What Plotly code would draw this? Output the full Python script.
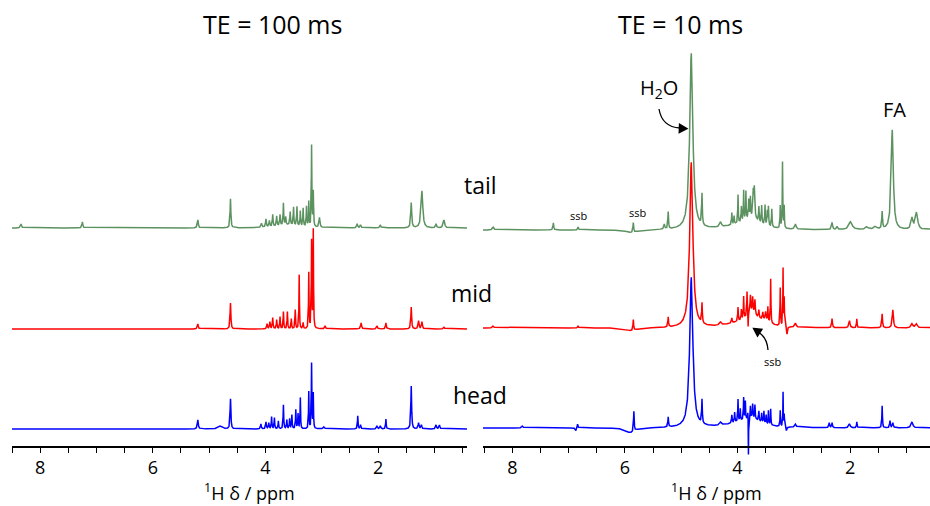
import numpy as np
import plotly.graph_objects as go

W, H = 930, 506

# Chemical-shift grid (ppm)
PPM = np.arange(0.40, 8.56, 0.001)

# Peak tables: (shift ppm, intensity, half-width ppm); negative intensity = inverted line
TAIL_TE100 = [
    (8.34, 4, 0.012), (7.25, 6, 0.010), (5.20, 8, 0.010), (4.62, 29, 0.008),
    (4.07, 4, 0.010), (3.99, 8, 0.008), (3.93, 6, 0.008), (3.87, 12, 0.007),
    (3.80, 10, 0.007), (3.74, 11, 0.007), (3.68, 22, 0.006), (3.64, 8, 0.007),
    (3.56, 13, 0.007), (3.50, 18, 0.006), (3.44, 19, 0.006), (3.38, 15, 0.006),
    (3.33, 18, 0.006), (3.27, 20, 0.006), (3.23, 25, 0.005), (3.18, 81, 0.005),
    (3.15, 35, 0.006), (3.04, 10, 0.010), (2.37, 4, 0.010), (2.31, 3, 0.010),
    (1.96, 3, 0.010), (1.41, 25, 0.010), (1.22, 37, 0.018), (0.97, 4, 0.010),
    (0.83, 8, 0.015), (3.60, 3, 0.25),
]
MID_TE100 = [
    (5.20, 5, 0.010), (4.62, 26, 0.008), (3.97, 5, 0.008), (3.92, 7, 0.007),
    (3.87, 11, 0.007), (3.80, 9, 0.007), (3.74, 12, 0.006), (3.68, 17, 0.006),
    (3.61, 17, 0.006), (3.54, 10, 0.006), (3.47, 19, 0.006), (3.40, 54, 0.005),
    (3.33, 6, 0.006), (3.23, 56, 0.005), (3.18, 87, 0.005), (3.15, 98, 0.005),
    (2.94, 3, 0.010), (2.30, 6, 0.010), (2.02, 3, 0.010), (1.86, 6, 0.008),
    (1.41, 22, 0.008), (1.28, 8, 0.010), (1.22, 7, 0.010), (0.83, 2, 0.010),
]
HEAD_TE100 = [
    (5.20, 9, 0.010), (4.80, 3, 0.040), (4.62, 30, 0.008), (4.08, 5, 0.008),
    (3.99, 7, 0.008), (3.94, 6, 0.007), (3.89, 12, 0.006), (3.84, 11, 0.006),
    (3.77, 8, 0.006), (3.68, 24, 0.006), (3.62, 9, 0.006), (3.57, 10, 0.006),
    (3.53, 14, 0.006), (3.46, 19, 0.006), (3.42, 15, 0.006), (3.38, 31, 0.005),
    (3.23, 37, 0.005), (3.18, 65, 0.005), (3.15, 35, 0.005), (2.96, 2, 0.015),
    (2.36, 13, 0.006), (2.31, 4, 0.008), (2.02, 3, 0.010), (1.96, 3, 0.010),
    (1.86, 10, 0.006), (1.41, 43, 0.008), (1.28, 6, 0.010), (1.23, 4, 0.010),
    (0.97, 4, 0.010), (0.91, 4, 0.010),
]
TAIL_TE10 = [
    (8.34, 3, 0.015), (7.27, 7, 0.008), (6.83, 3, 0.008), (5.88, -3, 0.12),
    (5.85, 10, 0.008), (5.30, 5, 0.010), (5.23, 17, 0.007), (4.82, 176, 0.033),
    (4.63, 31, 0.007), (4.30, 5, 0.020), (4.10, 12, 0.006), (4.06, 8, 0.006),
    (3.99, 28, 0.005), (3.93, 15, 0.006), (3.89, 30, 0.005), (3.85, 28, 0.005),
    (3.80, 18, 0.006), (3.77, 20, 0.006), (3.72, 24, 0.008), (3.70, 30, 0.010),
    (3.62, 15, 0.006), (3.57, 18, 0.006), (3.51, 20, 0.006), (3.47, 14, 0.006),
    (3.45, 19, 0.006), (3.39, 18, 0.006), (3.24, 22, 0.005), (3.20, 66, 0.005),
    (3.17, 22, 0.005), (2.97, 5, 0.015), (2.32, 7, 0.012), (2.23, 3, 0.012),
    (1.99, 8, 0.035), (1.70, 3, 0.030), (1.55, 3, 0.030), (1.43, 17, 0.008),
    (1.25, 100, 0.022), (0.90, 11, 0.020), (0.82, 17, 0.025),
    (3.75, 10, 0.18), (4.00, 3, 0.30),
]
MID_TE10 = [
    (8.34, 2, 0.015), (6.83, 2, 0.008), (5.88, -3, 0.12), (5.85, 11, 0.007),
    (5.23, 10, 0.007), (4.82, 165, 0.033), (4.63, 20, 0.007), (4.30, 3, 0.020),
    (4.10, 5, 0.008), (3.99, 14, 0.006), (3.93, 10, 0.006), (3.89, 22, 0.005),
    (3.83, 24, 0.005), (3.81, -14, 0.003), (3.77, 18, 0.008), (3.73, 16, 0.008),
    (3.69, 15, 0.008), (3.62, 8, 0.008), (3.55, 7, 0.008), (3.50, 8, 0.008),
    (3.46, 14, 0.005), (3.41, 44, 0.005), (3.24, 38, 0.005), (3.19, 57, 0.004),
    (3.17, 28, 0.005), (3.12, -8, 0.010), (2.97, 4, 0.015), (2.32, 9, 0.008),
    (2.01, 7, 0.012), (1.88, 9, 0.006), (1.43, 14, 0.008), (1.24, 18, 0.012),
    (0.90, 4, 0.020), (0.82, 4, 0.020),
    (3.75, 12, 0.15), (4.00, 3, 0.30), (3.50, 4, 0.10),
]
HEAD_TE10 = [
    (7.82, 2, 0.015), (6.87, -3, 0.010), (6.84, 4, 0.008), (5.90, -5, 0.10),
    (5.84, 20, 0.007), (5.23, 10, 0.007), (4.82, 150, 0.033), (4.63, 24, 0.007),
    (4.30, 3, 0.020), (4.10, 8, 0.006), (4.05, 10, 0.006), (3.99, 22, 0.005),
    (3.95, 12, 0.005), (3.89, 22, 0.005), (3.86, 18, 0.005), (3.815, 8, 0.004),
    (3.805, -38, 0.003), (3.77, 12, 0.006), (3.73, 14, 0.006), (3.69, 14, 0.006),
    (3.62, 10, 0.006), (3.57, 9, 0.006), (3.53, 12, 0.006), (3.49, 9, 0.006),
    (3.45, 14, 0.005), (3.41, 16, 0.005), (3.24, 16, 0.005), (3.19, 34, 0.004),
    (3.17, 12, 0.005), (3.13, -4, 0.010), (2.97, 3, 0.015), (2.37, 5, 0.008),
    (2.32, 5, 0.008), (2.01, 4, 0.015), (1.88, 6, 0.006), (1.43, 22, 0.006),
    (1.29, 7, 0.008), (1.24, 5, 0.010), (0.90, 6, 0.020),
    (3.75, 8, 0.20), (4.00, 3, 0.30),
]

# Vertical stacking offsets of each spectrum
OFFSETS_TE100 = {"tail": 219, "mid": 118, "head": 18}
OFFSETS_TE10 = {"tail": 217, "mid": 119, "head": 19}

COLORS = {"tail": "#5c9160", "mid": "#ff0000", "head": "#0000ff"}
FONT = "Open Sans"


def spectrum(peaks):
    y = np.zeros_like(PPM)
    for c, h, w in peaks:
        y += h / (1.0 + ((PPM - c) / w) ** 2)
    return y


fig = go.Figure()

panels = [
    ("x", {"tail": TAIL_TE100, "mid": MID_TE100, "head": HEAD_TE100}, OFFSETS_TE100),
    ("x2", {"tail": TAIL_TE10, "mid": MID_TE10, "head": HEAD_TE10}, OFFSETS_TE10),
]
for xa, spectra, offsets in panels:
    for name in ("tail", "mid", "head"):
        fig.add_trace(go.Scatter(
            x=PPM, y=spectrum(spectra[name]) + offsets[name],
            mode="lines", xaxis=xa, yaxis="y",
            line=dict(color=COLORS[name], width=1.5),
            hoverinfo="skip", showlegend=False,
        ))


def px(x):
    return x / W


def py(y):
    return 1 - y / H


AXIS_Y = 447
axis_common = dict(
    anchor="free", position=py(AXIS_Y),
    showline=True, linecolor="black", linewidth=1.6,
    ticks="outside", ticklen=5, tickwidth=1.4, tickcolor="black",
    tickvals=[8, 6, 4, 2], tickfont=dict(family=FONT, size=18, color="black"),
    showgrid=False, zeroline=False,
    minor=dict(dtick=0.5, tick0=0, ticks="outside", ticklen=5,
               tickwidth=1.4, tickcolor="black", showgrid=False),
)

fig.update_layout(
    width=W, height=H,
    margin=dict(l=0, r=0, t=0, b=0),
    paper_bgcolor="white", plot_bgcolor="rgba(0,0,0,0)",
    showlegend=False,
    xaxis=dict(domain=[px(12), px(467)], range=[8.5, 0.42], **axis_common),
    xaxis2=dict(domain=[px(483), 1.0], range=[8.52, 0.58], **axis_common),
    yaxis=dict(domain=[py(462), 1.0], range=[-15, 447], visible=False),
)


def label(x, y, text, size):
    fig.add_annotation(x=px(x), y=py(y), xref="paper", yref="paper",
                       xanchor="center", yanchor="middle",
                       text=text, showarrow=False,
                       font=dict(family=FONT, size=size, color="black"))


label(272, 24, "TE = 100 ms", 25)
label(680, 24, "TE = 10 ms", 25)
label(480, 185, "tail", 23)
label(471, 293, "mid", 23)
label(480, 395, "head", 23)
label(250, 492, "<sup>1</sup>H δ / ppm", 18)
label(716, 492, "<sup>1</sup>H δ / ppm", 18)
label(659, 89, "H<sub>2</sub>O", 20)
label(894, 110, "FA", 20)
label(578, 215, "ssb", 11)
label(637, 212, "ssb", 11)
label(772, 361, "ssb", 11)


def path_shape(points_cmd, fill=None):
    fig.add_shape(type="path", xref="paper", yref="paper", path=points_cmd,
                  line=dict(color="black", width=1.3),
                  fillcolor=fill if fill else "rgba(0,0,0,0)")


def P(x, y):
    return f"{px(x):.5f},{py(y):.5f}"


# curved pointer to the water line
path_shape(f"M {P(659, 109)} Q {P(662, 127)} {P(680, 128)}")
path_shape(f"M {P(687, 128.6)} L {P(679.5, 124.2)} L {P(679.2, 132.6)} Z", fill="black")
# curved pointer to the spinning sideband
path_shape(f"M {P(768, 350)} Q {P(767, 337)} {P(758, 332)}")
path_shape(f"M {P(753.5, 328.5)} L {P(762, 329.2)} L {P(757.5, 336.2)} Z", fill="black")

fig.write_html("out.html")
